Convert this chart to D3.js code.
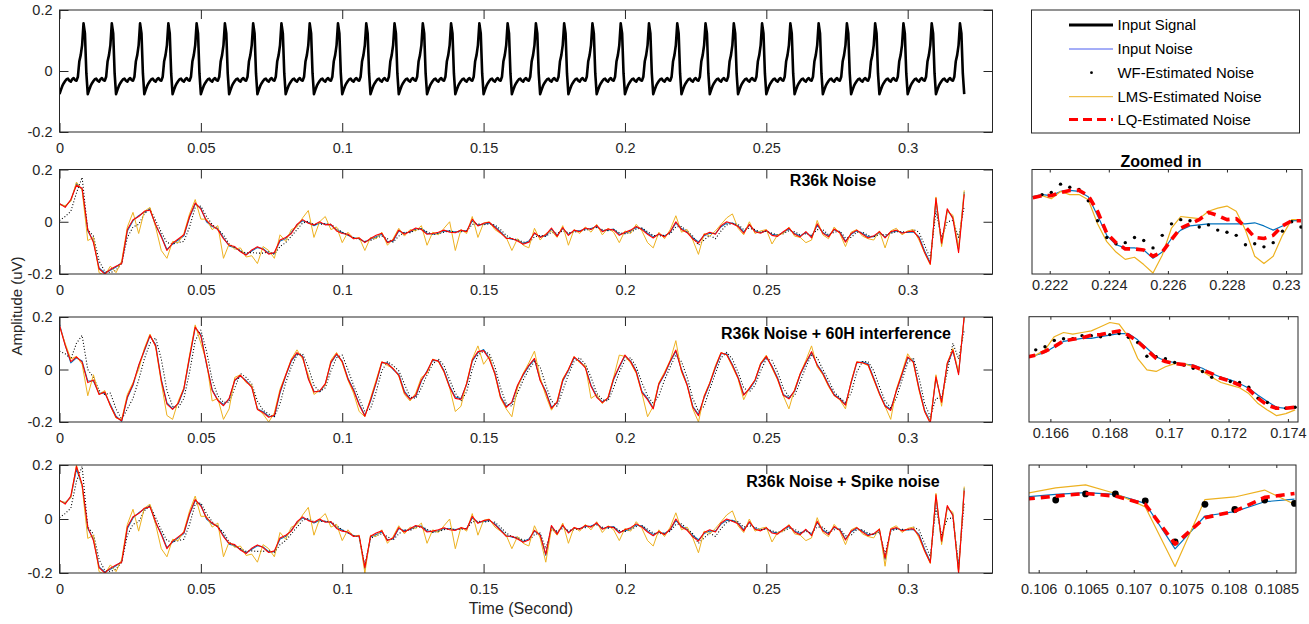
<!DOCTYPE html>
<html><head><meta charset="utf-8">
<script src="https://cdn.jsdelivr.net/npm/d3@7"></script>
<style>body{margin:0;background:#fff}</style>
</head><body><svg id="chart" width="1309" height="624"></svg>
<script>
// ---------------- DATA ----------------
// Input signal: one beat (samples every 0.5 ms), repeated each 10 ms
const beatStep = 0.0005;
const beatPeriod = 0.01;
const beatCount = 32;
const signalBeat = [-0.076,-0.062,-0.049,-0.040,-0.033,-0.027,-0.025,-0.032,-0.035,-0.027,
  -0.023,-0.030,-0.032,-0.019,0.031,0.052,0.085,0.156,0.123,-0.008];

// Main noise panels: samples every 2 ms from 0 to 0.32 s
const noiseStep = 0.002;
const p1Input = [0.068,0.059,0.081,0.146,0.124,-0.035,-0.074,-0.177,-0.196,-0.186,
-0.173,-0.157,-0.035,0.004,0.023,0.036,0.049,-0.015,-0.054,-0.106,
-0.086,-0.070,-0.054,0.017,0.068,0.052,0.000,-0.018,-0.026,-0.061,
-0.093,-0.099,-0.112,-0.125,-0.112,-0.099,-0.103,-0.121,-0.121,-0.074,
-0.065,-0.041,-0.013,0.004,-0.003,-0.015,-0.005,-0.009,-0.013,-0.031,
-0.041,-0.052,-0.061,-0.065,-0.077,-0.067,-0.057,-0.048,-0.077,-0.074,
-0.035,-0.044,-0.039,-0.028,-0.026,-0.044,-0.048,-0.044,-0.035,-0.036,
-0.039,-0.035,-0.035,0.004,-0.013,-0.009,-0.005,-0.018,-0.039,-0.061,
-0.067,-0.070,-0.083,-0.074,-0.045,-0.057,-0.054,-0.028,-0.052,-0.026,
-0.048,-0.035,-0.035,-0.028,-0.026,-0.018,-0.035,-0.032,-0.028,-0.048,
-0.044,-0.035,-0.022,-0.026,-0.044,-0.057,-0.049,-0.054,-0.041,-0.005,
-0.026,-0.039,-0.061,-0.077,-0.054,-0.044,-0.045,-0.019,-0.005,-0.005,
-0.015,-0.039,-0.013,-0.035,-0.041,-0.035,-0.048,-0.052,-0.041,-0.028,
-0.045,-0.054,-0.041,-0.057,-0.013,-0.041,-0.054,-0.031,-0.039,-0.074,
-0.048,-0.035,-0.044,-0.058,-0.057,-0.041,-0.058,-0.041,-0.035,-0.041,
-0.041,-0.039,-0.057,-0.112,-0.157,0.080,-0.086,0.043,0.017,-0.106,
0.114];
const p1WF = [0.005,0.020,0.040,0.110,0.170,-0.030,-0.055,-0.150,-0.190,-0.195,
-0.185,-0.160,-0.060,-0.020,-0.010,0.030,0.050,0.005,-0.040,-0.080,
-0.085,-0.080,-0.075,-0.020,0.055,0.060,0.020,-0.010,-0.030,-0.050,
-0.085,-0.100,-0.110,-0.120,-0.118,-0.120,-0.120,-0.115,-0.125,-0.095,
-0.080,-0.055,-0.030,-0.005,0.002,-0.010,-0.010,-0.008,-0.010,-0.025,
-0.040,-0.050,-0.060,-0.068,-0.075,-0.072,-0.062,-0.055,-0.065,-0.078,
-0.055,-0.040,-0.042,-0.032,-0.028,-0.038,-0.050,-0.046,-0.040,-0.035,
-0.040,-0.038,-0.036,-0.010,-0.008,-0.012,-0.008,-0.012,-0.030,-0.052,
-0.065,-0.068,-0.078,-0.080,-0.058,-0.052,-0.056,-0.040,-0.045,-0.035,
-0.042,-0.040,-0.036,-0.032,-0.028,-0.022,-0.030,-0.034,-0.030,-0.042,
-0.046,-0.040,-0.028,-0.024,-0.038,-0.052,-0.055,-0.052,-0.046,-0.020,
-0.018,-0.035,-0.055,-0.090,-0.070,-0.052,-0.065,-0.035,-0.012,-0.006,
-0.010,-0.030,-0.025,-0.030,-0.040,-0.036,-0.044,-0.050,-0.046,-0.034,
-0.038,-0.050,-0.046,-0.052,-0.030,-0.030,-0.050,-0.040,-0.036,-0.062,
-0.060,-0.040,-0.040,-0.052,-0.058,-0.048,-0.050,-0.045,-0.038,-0.038,
-0.040,-0.030,-0.040,-0.090,-0.140,0.040,-0.060,0.000,0.005,-0.060,
0.060];
const p1LMS = [0.065,0.062,0.078,0.152,0.120,-0.072,-0.060,-0.195,-0.205,-0.170,
-0.195,-0.150,-0.020,0.036,-0.045,0.040,0.055,-0.020,-0.110,-0.140,
-0.075,-0.080,-0.045,0.030,0.085,0.010,0.010,-0.030,-0.015,-0.140,
-0.085,-0.105,-0.100,-0.135,-0.130,-0.160,-0.095,-0.110,-0.140,-0.050,
-0.075,-0.030,-0.020,0.015,0.043,-0.060,0.000,0.020,-0.030,-0.020,
-0.080,-0.040,-0.065,-0.060,-0.110,-0.060,-0.065,-0.040,-0.090,-0.065,
-0.025,-0.055,-0.030,-0.035,-0.015,-0.090,-0.040,-0.050,-0.025,0.000,
-0.110,-0.030,-0.045,0.020,-0.060,-0.005,0.000,-0.030,-0.045,-0.060,
-0.110,-0.065,-0.090,-0.100,-0.025,-0.070,-0.045,-0.035,-0.060,-0.015,
-0.090,-0.030,-0.045,-0.020,-0.040,-0.010,-0.050,-0.025,-0.040,-0.080,
-0.035,-0.045,-0.010,-0.035,-0.080,-0.100,-0.040,-0.065,-0.030,0.023,
-0.040,-0.030,-0.070,-0.125,-0.045,-0.055,-0.035,-0.010,0.015,0.030,
-0.025,-0.050,0.000,-0.045,-0.035,-0.030,-0.085,-0.050,-0.045,-0.020,
-0.055,-0.060,-0.080,-0.070,0.005,-0.050,-0.065,-0.020,-0.045,-0.095,
-0.040,-0.030,-0.055,-0.065,-0.070,-0.035,-0.100,-0.035,-0.025,-0.050,
-0.035,-0.030,-0.070,-0.120,-0.165,0.095,-0.095,0.040,0.025,-0.100,
0.120];
const p1LQ = [0.070,0.055,0.085,0.140,0.128,-0.030,-0.080,-0.180,-0.200,-0.182,
-0.170,-0.160,-0.030,0.008,0.020,0.040,0.045,-0.010,-0.058,-0.110,
-0.082,-0.066,-0.050,0.020,0.072,0.048,0.004,-0.015,-0.030,-0.065,
-0.090,-0.095,-0.115,-0.128,-0.108,-0.096,-0.106,-0.124,-0.118,-0.070,
-0.060,-0.045,-0.010,0.008,-0.006,-0.012,0.000,-0.012,-0.010,-0.035,
-0.045,-0.048,-0.065,-0.062,-0.080,-0.064,-0.052,-0.044,-0.080,-0.070,
-0.032,-0.048,-0.036,-0.024,-0.030,-0.048,-0.045,-0.040,-0.032,-0.040,
-0.042,-0.032,-0.038,0.010,-0.016,-0.006,-0.002,-0.022,-0.042,-0.064,
-0.064,-0.074,-0.086,-0.078,-0.042,-0.060,-0.050,-0.024,-0.056,-0.022,
-0.052,-0.032,-0.038,-0.024,-0.030,-0.014,-0.038,-0.028,-0.032,-0.052,
-0.040,-0.032,-0.018,-0.030,-0.048,-0.062,-0.046,-0.058,-0.038,0.000,
-0.030,-0.042,-0.066,-0.082,-0.050,-0.040,-0.048,-0.015,0.000,-0.008,
-0.018,-0.044,-0.010,-0.038,-0.044,-0.032,-0.052,-0.056,-0.038,-0.024,
-0.048,-0.058,-0.038,-0.062,-0.008,-0.044,-0.058,-0.028,-0.042,-0.078,
-0.045,-0.032,-0.048,-0.062,-0.054,-0.038,-0.062,-0.038,-0.032,-0.044,
-0.038,-0.036,-0.062,-0.118,-0.162,0.090,-0.082,0.050,0.012,-0.118,
0.105];

const p2Input = [0.172,0.095,0.025,0.044,0.032,-0.044,-0.044,-0.091,-0.089,-0.133,
-0.178,-0.197,-0.108,-0.060,0.013,0.070,0.127,0.095,-0.038,-0.127,
-0.149,-0.131,-0.076,0.044,0.159,0.133,0.019,-0.076,-0.116,-0.133,
-0.114,-0.042,-0.025,-0.042,-0.064,-0.149,-0.161,-0.178,-0.178,-0.089,
-0.025,0.032,0.060,0.051,-0.032,-0.083,-0.085,-0.057,0.025,0.057,
0.032,-0.032,-0.076,-0.131,-0.174,-0.121,-0.051,0.025,0.025,0.000,
-0.019,-0.083,-0.111,-0.102,-0.044,-0.006,0.034,0.034,-0.004,-0.064,
-0.105,-0.111,-0.057,0.032,0.064,0.076,0.044,-0.013,-0.102,-0.140,
-0.127,-0.064,-0.022,0.013,0.038,-0.038,-0.083,-0.144,-0.127,-0.044,
-0.004,0.044,0.032,0.009,-0.060,-0.102,-0.123,-0.111,-0.038,0.009,
0.051,0.032,-0.006,-0.083,-0.111,-0.146,-0.057,-0.019,0.029,0.070,
0.000,-0.057,-0.140,-0.172,-0.108,-0.055,0.006,0.060,0.060,0.019,
-0.029,-0.095,-0.076,-0.044,0.019,0.047,0.013,-0.032,-0.095,-0.108,
-0.083,-0.019,0.025,0.064,0.019,-0.013,-0.057,-0.095,-0.111,-0.133,
-0.051,0.025,0.029,0.022,-0.032,-0.089,-0.136,-0.152,-0.083,-0.019,
0.044,0.032,-0.070,-0.155,-0.197,-0.032,-0.121,0.019,0.070,-0.013,
0.197];
const p2WF = [0.070,0.060,0.040,0.100,0.130,0.000,-0.030,-0.080,-0.095,-0.090,
-0.150,-0.190,-0.150,-0.110,-0.040,0.040,0.100,0.120,0.040,-0.080,
-0.140,-0.145,-0.110,-0.010,0.110,0.150,0.070,-0.040,-0.100,-0.125,
-0.125,-0.070,-0.015,-0.030,-0.055,-0.120,-0.155,-0.170,-0.180,-0.130,
-0.050,0.010,0.055,0.060,0.010,-0.060,-0.085,-0.070,-0.005,0.045,
0.055,0.000,-0.060,-0.110,-0.160,-0.150,-0.085,-0.005,0.030,0.015,
-0.005,-0.055,-0.105,-0.110,-0.070,-0.020,0.020,0.040,0.015,-0.040,
-0.090,-0.120,-0.085,0.000,0.055,0.070,0.060,0.010,-0.070,-0.130,
-0.140,-0.090,-0.040,0.000,0.030,0.010,-0.060,-0.120,-0.140,-0.080,
-0.020,0.030,0.045,0.020,-0.030,-0.090,-0.115,-0.120,-0.070,-0.010,
0.035,0.045,0.010,-0.050,-0.100,-0.130,-0.100,-0.040,0.010,0.055,
0.030,-0.030,-0.110,-0.160,-0.140,-0.075,-0.015,0.045,0.065,0.040,
-0.010,-0.070,-0.085,-0.060,-0.005,0.040,0.035,-0.010,-0.070,-0.105,
-0.100,-0.045,0.010,0.055,0.045,0.000,-0.040,-0.085,-0.108,-0.125,
-0.090,-0.010,0.030,0.030,-0.005,-0.065,-0.120,-0.145,-0.110,-0.040,
0.025,0.045,-0.030,-0.130,-0.180,-0.110,-0.110,-0.010,0.100,0.040,
0.150];
const p2LMS = [0.165,0.100,0.040,0.050,0.020,-0.100,-0.020,-0.095,-0.080,-0.140,
-0.185,-0.190,-0.095,-0.050,0.000,0.080,0.135,0.085,-0.050,-0.175,
-0.190,-0.120,-0.070,0.055,0.170,0.100,0.030,-0.120,-0.110,-0.190,
-0.150,-0.030,-0.020,-0.050,-0.060,-0.150,-0.170,-0.200,-0.165,-0.075,
-0.020,0.040,0.075,0.040,-0.020,-0.095,-0.080,-0.060,0.035,0.065,
0.025,-0.040,-0.090,-0.160,-0.180,-0.110,-0.040,0.030,0.015,0.005,
-0.025,-0.095,-0.120,-0.090,-0.030,-0.015,0.040,0.030,-0.010,-0.070,
-0.160,-0.140,-0.050,0.040,0.090,0.020,0.050,-0.020,-0.110,-0.150,
-0.180,-0.070,-0.015,0.025,0.070,-0.030,-0.100,-0.155,-0.120,-0.035,
0.000,0.050,0.025,0.015,-0.110,-0.095,-0.130,-0.105,-0.030,0.055,
0.050,0.025,-0.015,-0.090,-0.180,-0.140,-0.050,-0.010,0.035,0.110,
-0.010,-0.060,-0.150,-0.200,-0.100,-0.050,0.015,0.065,0.055,0.010,
-0.035,-0.115,-0.070,-0.040,0.025,0.055,0.005,-0.040,-0.100,-0.150,
-0.075,-0.015,0.035,0.090,0.010,-0.020,-0.065,-0.100,-0.115,-0.150,
-0.045,0.030,0.025,0.015,-0.040,-0.095,-0.140,-0.190,-0.075,-0.010,
0.060,0.025,-0.080,-0.160,-0.200,-0.020,-0.140,0.025,0.080,-0.010,
0.200];
const p2LQ = [0.168,0.092,0.030,0.048,0.028,-0.050,-0.040,-0.095,-0.086,-0.138,
-0.182,-0.195,-0.104,-0.056,0.016,0.074,0.130,0.090,-0.042,-0.132,
-0.152,-0.128,-0.072,0.048,0.162,0.128,0.022,-0.080,-0.118,-0.138,
-0.110,-0.040,-0.022,-0.045,-0.068,-0.152,-0.164,-0.182,-0.174,-0.084,
-0.022,0.036,0.064,0.048,-0.036,-0.086,-0.082,-0.054,0.028,0.060,
0.030,-0.036,-0.080,-0.135,-0.178,-0.116,-0.048,0.028,0.022,0.003,
-0.022,-0.088,-0.114,-0.098,-0.040,-0.008,0.038,0.032,-0.008,-0.068,
-0.110,-0.114,-0.054,0.036,0.068,0.072,0.040,-0.016,-0.106,-0.144,
-0.124,-0.060,-0.018,0.016,0.042,-0.042,-0.086,-0.148,-0.124,-0.040,
0.000,0.048,0.030,0.006,-0.064,-0.106,-0.126,-0.108,-0.034,0.012,
0.055,0.030,-0.010,-0.088,-0.115,-0.150,-0.054,-0.016,0.032,0.074,
-0.004,-0.060,-0.144,-0.176,-0.104,-0.052,0.010,0.064,0.056,0.016,
-0.032,-0.098,-0.072,-0.040,0.022,0.050,0.010,-0.036,-0.098,-0.112,
-0.080,-0.016,0.028,0.068,0.016,-0.016,-0.060,-0.098,-0.114,-0.136,
-0.048,0.028,0.026,0.018,-0.036,-0.092,-0.140,-0.156,-0.080,-0.016,
0.048,0.028,-0.074,-0.160,-0.205,-0.028,-0.125,0.024,0.074,-0.020,
0.205];

const p3Input = [0.068,0.059,0.081,0.185,0.124,-0.035,-0.074,-0.177,-0.196,-0.186,
-0.173,-0.157,-0.035,0.004,0.023,0.036,0.049,-0.015,-0.054,-0.106,
-0.086,-0.070,-0.054,0.017,0.068,0.052,0.000,-0.018,-0.026,-0.061,
-0.093,-0.099,-0.112,-0.125,-0.112,-0.099,-0.103,-0.121,-0.121,-0.074,
-0.065,-0.041,-0.013,0.004,-0.003,-0.015,-0.005,-0.009,-0.013,-0.031,
-0.041,-0.052,-0.061,-0.065,-0.185,-0.067,-0.057,-0.048,-0.077,-0.074,
-0.035,-0.044,-0.039,-0.028,-0.026,-0.044,-0.048,-0.044,-0.035,-0.036,
-0.039,-0.035,-0.035,0.004,-0.013,-0.009,-0.005,-0.018,-0.039,-0.061,
-0.067,-0.070,-0.083,-0.074,-0.045,-0.057,-0.135,-0.028,-0.052,-0.026,
-0.048,-0.035,-0.035,-0.028,-0.026,-0.018,-0.035,-0.032,-0.028,-0.048,
-0.044,-0.035,-0.022,-0.026,-0.044,-0.057,-0.049,-0.054,-0.041,-0.005,
-0.026,-0.039,-0.061,-0.077,-0.054,-0.044,-0.045,-0.019,-0.005,-0.005,
-0.015,-0.039,-0.013,-0.035,-0.041,-0.035,-0.048,-0.052,-0.041,-0.028,
-0.045,-0.054,-0.041,-0.057,-0.013,-0.041,-0.054,-0.031,-0.039,-0.074,
-0.048,-0.035,-0.044,-0.058,-0.057,-0.041,-0.150,-0.041,-0.035,-0.041,
-0.041,-0.039,-0.057,-0.112,-0.157,0.080,-0.086,0.043,0.017,-0.190,
0.114];
const p3WF = [0.005,0.020,0.040,0.140,0.195,-0.030,-0.055,-0.150,-0.190,-0.195,
-0.185,-0.160,-0.060,-0.020,-0.010,0.030,0.050,0.005,-0.040,-0.080,
-0.085,-0.080,-0.075,-0.020,0.055,0.060,0.020,-0.010,-0.030,-0.050,
-0.085,-0.100,-0.110,-0.120,-0.118,-0.120,-0.120,-0.115,-0.125,-0.095,
-0.080,-0.055,-0.030,-0.005,0.002,-0.010,-0.010,-0.008,-0.010,-0.025,
-0.040,-0.050,-0.060,-0.068,-0.170,-0.072,-0.062,-0.055,-0.065,-0.078,
-0.055,-0.040,-0.042,-0.032,-0.028,-0.038,-0.050,-0.046,-0.040,-0.035,
-0.040,-0.038,-0.036,-0.010,-0.008,-0.012,-0.008,-0.012,-0.030,-0.052,
-0.065,-0.068,-0.078,-0.080,-0.058,-0.052,-0.110,-0.040,-0.045,-0.035,
-0.042,-0.040,-0.036,-0.032,-0.028,-0.022,-0.030,-0.034,-0.030,-0.042,
-0.046,-0.040,-0.028,-0.024,-0.038,-0.052,-0.055,-0.052,-0.046,-0.020,
-0.018,-0.035,-0.055,-0.090,-0.070,-0.052,-0.065,-0.035,-0.012,-0.006,
-0.010,-0.030,-0.025,-0.030,-0.040,-0.036,-0.044,-0.050,-0.046,-0.034,
-0.038,-0.050,-0.046,-0.052,-0.030,-0.030,-0.050,-0.040,-0.036,-0.062,
-0.060,-0.040,-0.040,-0.052,-0.058,-0.048,-0.130,-0.045,-0.038,-0.038,
-0.040,-0.030,-0.040,-0.090,-0.140,0.040,-0.060,0.000,0.005,-0.170,
0.060];
const p3LMS = [0.065,0.062,0.078,0.200,0.120,-0.072,-0.060,-0.195,-0.205,-0.170,
-0.195,-0.150,-0.020,0.036,-0.045,0.040,0.055,-0.020,-0.110,-0.140,
-0.075,-0.080,-0.045,0.030,0.085,0.010,0.010,-0.030,-0.015,-0.140,
-0.085,-0.105,-0.100,-0.135,-0.130,-0.160,-0.095,-0.110,-0.140,-0.050,
-0.075,-0.030,-0.020,0.015,0.043,-0.060,0.000,0.020,-0.030,-0.020,
-0.080,-0.040,-0.065,-0.060,-0.200,-0.060,-0.065,-0.040,-0.090,-0.065,
-0.025,-0.055,-0.030,-0.035,-0.015,-0.090,-0.040,-0.050,-0.025,0.000,
-0.110,-0.030,-0.045,0.020,-0.060,-0.005,0.000,-0.030,-0.045,-0.060,
-0.110,-0.065,-0.090,-0.100,-0.025,-0.070,-0.160,-0.035,-0.060,-0.015,
-0.090,-0.030,-0.045,-0.020,-0.040,-0.010,-0.050,-0.025,-0.040,-0.080,
-0.035,-0.045,-0.010,-0.035,-0.080,-0.100,-0.040,-0.065,-0.030,0.023,
-0.040,-0.030,-0.070,-0.125,-0.045,-0.055,-0.035,-0.010,0.015,0.030,
-0.025,-0.050,0.000,-0.045,-0.035,-0.030,-0.085,-0.050,-0.045,-0.020,
-0.055,-0.060,-0.080,-0.070,0.005,-0.050,-0.065,-0.020,-0.045,-0.095,
-0.040,-0.030,-0.055,-0.065,-0.070,-0.035,-0.175,-0.035,-0.025,-0.050,
-0.035,-0.030,-0.070,-0.120,-0.165,0.095,-0.095,0.040,0.025,-0.200,
0.120];
const p3LQ = [0.070,0.055,0.085,0.195,0.128,-0.030,-0.080,-0.180,-0.200,-0.182,
-0.170,-0.160,-0.030,0.008,0.020,0.040,0.045,-0.010,-0.058,-0.110,
-0.082,-0.066,-0.050,0.020,0.072,0.048,0.004,-0.015,-0.030,-0.065,
-0.090,-0.095,-0.115,-0.128,-0.108,-0.096,-0.106,-0.124,-0.118,-0.070,
-0.060,-0.045,-0.010,0.008,-0.006,-0.012,0.000,-0.012,-0.010,-0.035,
-0.045,-0.048,-0.065,-0.062,-0.180,-0.064,-0.052,-0.044,-0.080,-0.070,
-0.032,-0.048,-0.036,-0.024,-0.030,-0.048,-0.045,-0.040,-0.032,-0.040,
-0.042,-0.032,-0.038,0.010,-0.016,-0.006,-0.002,-0.022,-0.042,-0.064,
-0.064,-0.074,-0.086,-0.078,-0.042,-0.060,-0.130,-0.024,-0.056,-0.022,
-0.052,-0.032,-0.038,-0.024,-0.030,-0.014,-0.038,-0.028,-0.032,-0.052,
-0.040,-0.032,-0.018,-0.030,-0.048,-0.062,-0.046,-0.058,-0.038,0.000,
-0.030,-0.042,-0.066,-0.082,-0.050,-0.040,-0.048,-0.015,0.000,-0.008,
-0.018,-0.044,-0.010,-0.038,-0.044,-0.032,-0.052,-0.056,-0.038,-0.024,
-0.048,-0.058,-0.038,-0.062,-0.008,-0.044,-0.058,-0.028,-0.042,-0.078,
-0.045,-0.032,-0.048,-0.062,-0.054,-0.038,-0.145,-0.038,-0.032,-0.044,
-0.038,-0.036,-0.062,-0.118,-0.162,0.090,-0.082,0.050,0.012,-0.200,
0.105];

// Zoomed-in panels (sample interval ~0.313 ms)
const z1Start = 0.221427, z1Step = 0.000313;
const z1Input = [-0.026,-0.024,-0.025,-0.021,-0.020,-0.021,-0.026,-0.044,-0.063,-0.072,
-0.075,-0.075,-0.077,-0.085,-0.079,-0.066,-0.058,-0.054,-0.053,-0.052,
-0.052,-0.052,-0.052,-0.052,-0.051,-0.054,-0.058,-0.054,-0.049,-0.049];
const z1WF = [null,-0.024,-0.022,-0.014,-0.017,-0.019,-0.030,-0.049,-0.065,-0.071,
-0.070,-0.065,-0.068,-0.075,-0.063,-0.052,-0.048,-0.049,-0.055,-0.053,
-0.058,-0.060,-0.063,-0.072,-0.071,-0.074,-0.070,-0.059,-0.050,-0.055];
const z1LMS = [-0.026,-0.025,-0.028,-0.021,-0.024,-0.024,-0.029,-0.052,-0.069,-0.079,
-0.086,-0.084,-0.091,-0.099,-0.082,-0.056,-0.045,-0.046,-0.047,-0.040,
-0.037,-0.035,-0.040,-0.058,-0.083,-0.090,-0.083,-0.063,-0.048,-0.048];
const z1LQ = [-0.027,-0.025,-0.025,-0.022,-0.020,-0.020,-0.025,-0.040,-0.061,-0.070,
-0.076,-0.076,-0.077,-0.083,-0.079,-0.067,-0.056,-0.052,-0.048,-0.041,
-0.044,-0.048,-0.047,-0.055,-0.065,-0.066,-0.063,-0.054,-0.049,-0.049];

const z2Start = 0.165195, z2Step = 0.000312;
const z2Input = [0.003,0.007,0.012,0.023,0.033,0.036,0.039,0.039,0.042,0.045,
0.048,0.048,0.036,0.020,0.004,-0.004,-0.007,-0.010,-0.012,-0.018,
-0.028,-0.035,-0.040,-0.047,-0.056,-0.069,-0.081,-0.092,-0.094,-0.094];
const z2WF = [null,0.017,0.023,0.035,0.038,0.038,0.044,0.044,0.042,0.046,
0.048,0.041,0.031,0.005,0.004,0.000,-0.007,-0.012,-0.018,-0.024,
-0.035,-0.037,-0.043,-0.045,-0.054,-0.075,-0.083,-0.094,-0.094,-0.092];
const z2LMS = [0.003,0.007,0.017,0.042,0.050,0.047,0.050,0.053,0.061,0.069,
0.066,0.042,0.001,-0.021,-0.024,-0.015,-0.009,-0.009,-0.015,-0.024,
-0.035,-0.045,-0.050,-0.055,-0.066,-0.085,-0.097,-0.108,-0.104,-0.097];
const z2LQ = [0.003,0.007,0.014,0.023,0.034,0.037,0.040,0.045,0.046,0.050,
0.053,0.045,0.033,0.017,0.001,-0.005,-0.009,-0.011,-0.014,-0.021,
-0.028,-0.037,-0.042,-0.050,-0.058,-0.075,-0.088,-0.094,-0.094,-0.092];

const z3Start = 0.105865, z3Step = 0.000314;
const z3Input = [-0.024,-0.018,-0.014,-0.018,-0.039,-0.144,-0.068,-0.058,-0.035,-0.029];
const z3WF = [null,-0.031,-0.017,-0.017,-0.033,-0.128,-0.041,-0.053,-0.031,-0.039];
const z3LMS = [-0.016,-0.003,0.004,-0.016,-0.047,-0.185,-0.030,-0.024,-0.008,-0.041];
const z3LQ = [-0.029,-0.022,-0.016,-0.022,-0.041,-0.133,-0.072,-0.057,-0.025,-0.016];

// Ticks and labels
const mainTicks = [0,0.05,0.1,0.15,0.2,0.25,0.3];
const ampTicks = [-0.2,0,0.2];
const z1Ticks = [0.222,0.224,0.226,0.228,0.23];
const z2Ticks = [0.166,0.168,0.17,0.172,0.174];
const z3Ticks = [0.106,0.1065,0.107,0.1075,0.108,0.1085];
const panelTitles = ["R36k Noise","R36k Noise + 60H interference","R36k Noise + Spike noise"];
const legendLabels = ["Input Signal","Input Noise","WF-Estimated Noise","LMS-Estimated Noise","LQ-Estimated Noise"];

// ---------------- DRAWING ----------------
const FONT = "'Liberation Sans', Arial, Helvetica, sans-serif";
const AX = "#262626";
const C_BLUE = "#0072BD", C_YEL = "#EDB120", C_RED = "#FF0000";
const svg = d3.select("#chart");
svg.append("rect").attr("width",1309).attr("height",624).attr("fill","#fff");
const defs = svg.append("defs");
let clipN = 0;

function makePanel(o){
  const x = d3.scaleLinear().domain(o.xDomain).range([o.x0,o.x1]);
  const y = d3.scaleLinear().domain(o.yDomain).range([o.yBot,o.yTop]);
  const id = "clip"+(clipN++);
  defs.append("clipPath").attr("id",id).append("rect")
    .attr("x",o.x0).attr("y",o.yTop).attr("width",o.x1-o.x0).attr("height",o.yBot-o.yTop);
  const g = svg.append("g");
  const plot = g.append("g").attr("clip-path",`url(#${id})`);
  return {x,y,g,plot,o};
}

function styleAxis(sel){
  sel.select(".domain").remove();
  sel.selectAll(".tick line").attr("stroke",AX).attr("stroke-width",1);
  sel.selectAll(".tick text").attr("fill",AX).attr("font-family",FONT).attr("font-size",14.5);
}

function frame(p, opt){
  const o = p.o;
  const tl = opt.tickLen;
  p.g.append("g").attr("transform",`translate(0,${o.yBot})`)
    .call(d3.axisBottom(p.x).tickValues(opt.xTicks).tickSize(-tl).tickPadding(opt.xPad).tickFormat(opt.xFmt))
    .call(styleAxis);
  p.g.append("g").attr("transform",`translate(0,${o.yTop})`)
    .call(d3.axisTop(p.x).tickValues(opt.xTicks).tickSize(-tl).tickFormat(""))
    .call(styleAxis);
  if(opt.yTicks){
    p.g.append("g").attr("transform",`translate(${o.x0},0)`)
      .call(d3.axisLeft(p.y).tickValues(opt.yTicks).tickSize(-tl).tickPadding(7)
        .tickFormat(d => d===0 ? "0" : d.toFixed(1)))
      .call(styleAxis);
    p.g.append("g").attr("transform",`translate(${o.x1},0)`)
      .call(d3.axisRight(p.y).tickValues(opt.yTicks).tickSize(-tl).tickFormat(""))
      .call(styleAxis);
  }
  p.g.append("rect").attr("x",o.x0).attr("y",o.yTop).attr("width",o.x1-o.x0).attr("height",o.yBot-o.yTop)
    .attr("fill","none").attr("stroke",AX).attr("stroke-width",1);
}

function drawLine(p, times, vals, color, width, dash){
  const pts = vals.map((v,i)=>[times[i],v]).filter(d=>d[1]!==null);
  const line = d3.line().x(d=>p.x(d[0])).y(d=>p.y(d[1]));
  const path = p.plot.append("path").datum(pts).attr("d",line)
    .attr("fill","none").attr("stroke",color).attr("stroke-width",width)
    .attr("stroke-linejoin","round");
  if(dash) path.attr("stroke-dasharray",dash);
  return path;
}
function drawDots(p, times, vals, r){
  const pts = vals.map((v,i)=>[times[i],v]).filter(d=>d[1]!==null);
  p.plot.selectAll(null).data(pts).enter().append("circle")
    .attr("cx",d=>p.x(d[0])).attr("cy",d=>p.y(d[1])).attr("r",r).attr("fill","#000");
}

const mainFmt = d => String(+d.toFixed(3));
const X0 = 59.5, X1 = 992.5, XDOM = [0,0.33];

// --- top panel: input signal ---
const sigT = [], sigV = [];
for(let b=0;b<beatCount;b++){
  signalBeat.forEach((v,i)=>{ sigT.push(b*beatPeriod + i*beatStep); sigV.push(v); });
}
sigT.push(beatCount*beatPeriod); sigV.push(signalBeat[0]);
const topPanel = makePanel({x0:X0,x1:X1,yTop:10,yBot:132,xDomain:XDOM,yDomain:[-0.2,0.2]});
drawLine(topPanel, sigT, sigV, "#000", 2.6);
frame(topPanel,{tickLen:9,xTicks:mainTicks,xPad:11,xFmt:mainFmt,yTicks:ampTicks});

// --- noise panels ---
const noiseT = d3.range(p1Input.length).map(i => i*noiseStep);
const mainPanels = [
  {yTop:169.5,yBot:274,data:[p1Input,p1WF,p1LMS,p1LQ],title:panelTitles[0],tx:833,ty:186},
  {yTop:317,yBot:422,data:[p2Input,p2WF,p2LMS,p2LQ],title:panelTitles[1],tx:836,ty:339},
  {yTop:465,yBot:573,data:[p3Input,p3WF,p3LMS,p3LQ],title:panelTitles[2],tx:843,ty:487}
];
mainPanels.forEach(mp=>{
  const p = makePanel({x0:X0,x1:X1,yTop:mp.yTop,yBot:mp.yBot,xDomain:XDOM,yDomain:[-0.2,0.2]});
  drawLine(p, noiseT, mp.data[0], C_BLUE, 1.1);
  drawLine(p, noiseT, mp.data[1], "#000", 1.1, "1,2");
  drawLine(p, noiseT, mp.data[2], C_YEL, 1);
  drawLine(p, noiseT, mp.data[3], C_RED, 1.1);
  frame(p,{tickLen:9,xTicks:mainTicks,xPad:11,xFmt:mainFmt,yTicks:ampTicks});
  svg.append("text").attr("x",mp.tx).attr("y",mp.ty).attr("text-anchor","middle")
    .attr("font-family",FONT).attr("font-size",16).attr("font-weight","bold").attr("fill","#000")
    .text(mp.title);
});

// --- zoomed panels ---
const zoomPanels = [
  {x0:1032,x1:1302,yTop:169.5,yBot:274,xDomain:[0.2214,0.23054],yDomain:[-0.1,0],
   start:z1Start,step:z1Step,data:[z1Input,z1WF,z1LMS,z1LQ],ticks:z1Ticks,pad:6,dot:1.7,fmt:d=>String(+d.toFixed(3))},
  {x0:1029,x1:1298,yTop:316.7,yBot:422,xDomain:[0.16528,0.17434],yDomain:[-0.12,0.08],
   start:z2Start,step:z2Step,data:[z2Input,z2WF,z2LMS,z2LQ],ticks:z2Ticks,pad:6,dot:1.7,fmt:d=>String(+d.toFixed(3))},
  {x0:1029,x1:1296,yTop:465,yBot:573,xDomain:[0.105898,0.108707],yDomain:[-0.2,0.05],
   start:z3Start,step:z3Step,data:[z3Input,z3WF,z3LMS,z3LQ],ticks:z3Ticks,pad:11,dot:3.4,fmt:d=>String(+d.toFixed(4))}
];
zoomPanels.forEach(zp=>{
  const p = makePanel(zp);
  const t = d3.range(zp.data[0].length).map(i => zp.start + i*zp.step);
  drawLine(p, t, zp.data[0], C_BLUE, 1.2);
  drawLine(p, t, zp.data[2], C_YEL, 1.2);
  drawDots(p, t, zp.data[1], zp.dot);
  drawLine(p, t, zp.data[3], C_RED, 3.6, "9,6");
  frame(p,{tickLen:3,xTicks:zp.ticks,xPad:zp.pad,xFmt:zp.fmt});
});
svg.append("text").attr("x",1161).attr("y",167).attr("text-anchor","middle")
  .attr("font-family",FONT).attr("font-size",16).attr("font-weight","bold").attr("fill","#000")
  .text("Zoomed in");

// --- legend ---
const lg = svg.append("g");
lg.append("rect").attr("x",1031.5).attr("y",10).attr("width",268).attr("height",123)
  .attr("fill","#fff").attr("stroke",AX).attr("stroke-width",1);
const legRows = [25,49,72.7,96.7,119.5];
const legStyles = [
  {type:"line",color:"#000",w:3},
  {type:"line",color:"#4a5cf0",w:1},
  {type:"dot"},
  {type:"line",color:C_YEL,w:1},
  {type:"line",color:C_RED,w:3,dash:"9,5"}
];
legendLabels.forEach((lab,i)=>{
  const yy = legRows[i], s = legStyles[i];
  if(s.type==="line"){
    const l = lg.append("line").attr("x1",1069).attr("x2",1113).attr("y1",yy).attr("y2",yy)
      .attr("stroke",s.color).attr("stroke-width",s.w);
    if(s.dash) l.attr("stroke-dasharray",s.dash);
  } else {
    lg.append("circle").attr("cx",1091.5).attr("cy",yy).attr("r",1.4).attr("fill","#000");
  }
  lg.append("text").attr("x",1117.5).attr("y",yy).attr("dy","0.35em")
    .attr("font-family",FONT).attr("font-size",14.9).attr("fill","#000").text(lab);
});

// --- axis titles ---
svg.append("text").attr("transform","translate(22,306) rotate(-90)").attr("text-anchor","middle")
  .attr("font-family",FONT).attr("font-size",15).attr("fill",AX).text("Amplitude (uV)");
svg.append("text").attr("x",521).attr("y",614).attr("text-anchor","middle")
  .attr("font-family",FONT).attr("font-size",16).attr("fill",AX).text("Time (Second)");
</script>
</body></html>
